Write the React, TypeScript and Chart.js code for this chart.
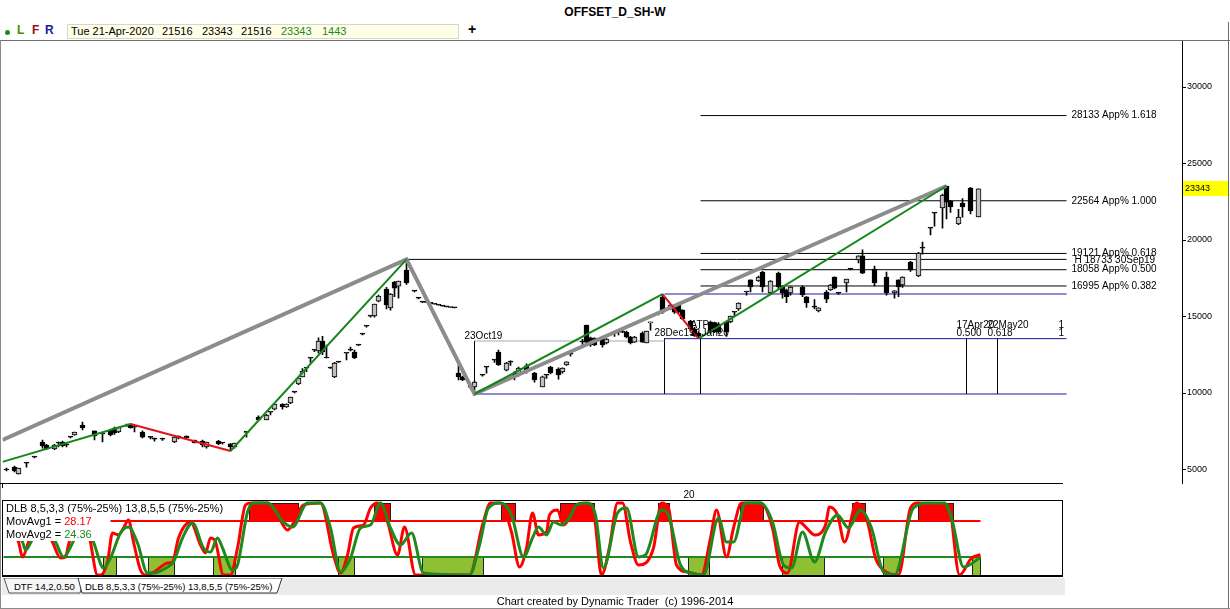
import React, { useEffect, useRef } from 'react';
import { Chart, registerables } from 'chart.js';

Chart.register(...registerables);

const FONT = "'Liberation Sans', Arial, sans-serif";

// ---- daily price bars (x = trading-day index from the left edge) ----
const barIdx = [
  1, 3, 4, 6, 8, 10, 11, 13, 14, 15,
  16, 17, 18, 20, 23, 25, 27, 28, 29, 31,
  32, 33, 35, 37, 38, 40, 43, 44, 46, 48,
  50, 51, 54, 55, 57, 58, 61, 64, 66, 67,
  68, 70, 71, 72, 73, 74, 75, 76, 77, 78,
  79, 80, 81, 82, 83, 84, 86, 87, 88, 89,
  90, 91, 92, 93, 94, 96, 97, 98, 99, 101,
  103, 104, 105, 106, 107, 108, 109, 110, 111, 112,
  113, 114, 115, 117, 118, 120, 121, 123, 124, 126,
  127, 128, 129, 131, 133, 135, 136, 137, 139, 140,
  141, 142, 145, 146, 147, 148, 150, 151, 153, 154,
  155, 156, 157, 158, 160, 161, 162, 164, 165, 167,
  168, 169, 170, 172, 173, 174, 177, 178, 179, 181,
  182, 183, 184, 186, 187, 189, 190, 192, 194, 195,
  196, 197, 200, 201, 203, 204, 206, 207, 208, 209,
  211, 212, 214, 215, 218, 221, 223, 224, 225, 227,
  229, 230, 232, 233, 235, 236, 237, 239, 240, 242,
  244,
];
const barOpen = [
  4970, 5160, 4710, 5430, 5820, 6800, 6600, 6340, 6730, 6800,
  6600, 7120, 7260, 7910, 7520, 7320, 7580, 7710, 7450, 7840,
  7970, 7780, 7450, 7120, 7000, 6990, 6800, 7190, 7190, 6930,
  6860, 6470, 6860, 6730, 6670, 6470, 7450, 8430, 8240, 8760,
  8950, 9280, 9090, 9350, 10070, 10590, 11050, 11630, 12290, 12810,
  12750, 13400, 12290, 11630, 11050, 12030, 12610, 12810, 12680, 13140,
  13860, 14380, 15030, 15030, 16010, 16800, 15560, 17250, 16990, 18040,
  16670, 16210, 15950, 15920, 15860, 15800, 15740, 15680, 15630, 15590,
  15560, 11310, 11050, 10390, 10390, 11180, 11700, 12160, 12680, 11500,
  12030, 11310, 11180, 11770, 11310, 10390, 11180, 11700, 11570, 11370,
  11830, 12550, 13330, 14440, 13600, 13590, 13530, 13270, 13920, 13990,
  13990, 13990, 13660, 13330, 13920, 13270, 14580, 15230, 16270, 15560,
  15750, 15880, 15420, 14700, 14200, 13900, 14640, 14600, 14500, 14640,
  14640, 15290, 15490, 16600, 17390, 17320, 17910, 16540, 17840, 16930,
  16730, 16540, 16930, 16280, 15620, 15360, 16600, 16730, 17580, 16540,
  17190, 18100, 18700, 18960, 18100, 17580, 16540, 17390, 17060, 18560,
  17650, 19480, 20780, 21770, 22090, 23530, 22550, 21050, 22420, 23400,
  21516,
];
const barHigh = [
  5100, 5230, 5100, 5430, 5820, 6930, 6650, 6650, 6800, 6860,
  6730, 7120, 7450, 8100, 7520, 7320, 7650, 7780, 7780, 7970,
  7990, 7780, 7520, 7150, 7050, 7060, 7120, 7200, 7200, 6930,
  6930, 6800, 6900, 6770, 6700, 6730, 7450, 8500, 8600, 8760,
  9280, 9300, 9300, 9740, 10070, 10980, 11600, 11630, 12290, 12810,
  13600, 13700, 13140, 11700, 12000, 12050, 12610, 13000, 12800, 13140,
  13860, 14380, 15030, 15820, 16400, 16900, 16500, 17300, 17320, 18733,
  16700, 16250, 15950, 15920, 15860, 15800, 15740, 15680, 15630, 15590,
  15560, 11830, 11100, 10400, 10800, 11200, 11700, 12160, 12800, 12000,
  12100, 11400, 11700, 11900, 11350, 11100, 11180, 11750, 11650, 11650,
  12030, 12550, 13500, 14440, 13650, 13600, 13550, 13550, 13920, 14050,
  14100, 14050, 13700, 13700, 14000, 14050, 14640, 15230, 16470, 15800,
  15800, 15900, 15450, 14750, 14300, 14000, 14700, 14640, 14600, 14700,
  15030, 15290, 15900, 16620, 17400, 17650, 17950, 17350, 17900, 17000,
  16800, 16950, 17000, 16300, 16100, 15560, 16700, 17100, 17600, 16550,
  17450, 18150, 18960, 19350, 18300, 17900, 16700, 17400, 17600, 18600,
  19200, 19870, 20800, 21770, 23000, 23530, 22600, 22000, 22700, 23450,
  23343,
];
const barLow = [
  4900, 4840, 4700, 5160, 5750, 6400, 6300, 6300, 6470, 6470,
  6470, 7060, 7250, 7580, 6930, 6800, 7200, 7300, 7400, 7840,
  7700, 7450, 7060, 7000, 6860, 6900, 6750, 7000, 7050, 6730,
  6470, 6400, 6600, 6650, 6210, 6400, 7120, 8200, 8240, 8560,
  8900, 8950, 9050, 9300, 10000, 10550, 11050, 11400, 12000, 12700,
  12600, 12500, 12290, 11600, 11000, 12000, 12160, 12750, 12250, 13100,
  13800, 14300, 14950, 14950, 15950, 15500, 15420, 16300, 16200, 17100,
  16600, 16150, 15900, 15920, 15860, 15800, 15740, 15680, 15630, 15590,
  15560, 10850, 10800, 10300, 9935, 11100, 11300, 12000, 11800, 11450,
  11800, 10850, 11100, 11300, 10700, 10390, 10950, 11250, 10900, 11300,
  11800, 12400, 13100, 13200, 13050, 13100, 13000, 13200, 13700, 13800,
  13950, 13600, 13200, 13300, 13300, 13270, 14100, 15100, 15200, 15450,
  15200, 15250, 14800, 14100, 13700, 13553, 13900, 13950, 13900, 13700,
  14600, 15000, 15400, 16400, 16600, 17300, 16600, 16500, 16800, 16200,
  15900, 16400, 16300, 15600, 15500, 15300, 15900, 16700, 16800, 16450,
  16600, 18050, 18500, 17800, 17000, 16400, 16200, 16300, 16900, 17950,
  17600, 19080, 20330, 20900, 20780, 21370, 21800, 21000, 21500, 21700,
  21516,
];
const barClose = [
  4970, 4900, 5100, 5420, 5810, 6540, 6340, 6600, 6730, 6540,
  6600, 7120, 7450, 7710, 7190, 7320, 7260, 7390, 7780, 7910,
  7710, 7760, 7120, 7100, 6990, 6980, 7120, 7060, 7060, 6730,
  6600, 6800, 6670, 6730, 6470, 6730, 7430, 8240, 8560, 8740,
  9280, 9090, 9280, 9740, 10060, 10980, 11440, 11620, 12280, 12800,
  13400, 12680, 12290, 11630, 11960, 12020, 12600, 12800, 12290, 13130,
  13850, 14370, 15020, 15820, 16340, 15750, 16470, 16860, 17320, 17190,
  16660, 16200, 15940, 15920, 15860, 15800, 15740, 15680, 15630, 15590,
  15560, 11050, 10850, 10380, 10720, 11170, 11690, 12150, 11830, 11960,
  12020, 11050, 11630, 11370, 10850, 11050, 11170, 11310, 11180, 11630,
  12030, 12540, 13320, 13330, 13140, 13140, 13140, 13530, 13910, 13980,
  13980, 13660, 13270, 13660, 13330, 14050, 14640, 15220, 15290, 15750,
  15290, 15290, 14840, 14200, 13800, 13700, 13990, 14000, 14000, 13990,
  15030, 15280, 15880, 16600, 16930, 17580, 16930, 17320, 16930, 16540,
  16280, 16930, 16410, 15880, 15610, 15560, 16140, 17060, 16860, 16530,
  17450, 18100, 18960, 17840, 17190, 16540, 16670, 16930, 17580, 18040,
  19150, 19470, 20780, 21760, 22940, 22480, 22160, 21500, 22160, 21900,
  23343,
];
// bar flagged by the pivot finder
const markedBars = [48];

// readout of the last bar
const lastDate = 'Tue 21-Apr-2020';
const lastOpen = 21516;
const lastHigh = 23343;
const lastLow = 21516;
const lastClose = 23343;
const lastChange = 1443;

// right price axis
const yTicks = [5000, 10000, 15000, 20000, 25000, 30000];
const yMin = 4118;
const yMax = 33072;

// bottom time axis
const yearTickIdx = [170.25];
const yearTickLabels = ['20'];

// major swing path (thick grey)
const majorIdx = [0, 101, 118, 236];
const majorPrice = [6930, 18733, 9935, 23530];

// minor swing pivots (green up legs, red down legs)
const pivotIdx = [0, 32, 57, 101, 118, 165, 174, 236];
const pivotPrice = [5500, 7970, 6210, 18733, 9935, 16470, 13553, 23530];
const pivotBreak = 3; // no minor leg between pivot 3 and 4

// alternate price projection levels
const fibLevels = [28133, 22564, 19121, 18058, 16995];
const fibRatios = ['1.618', '1.000', '0.618', '0.500', '0.382'];
const fibFromIdx = 174.5;
const levelToIdx = 266;
const fibBase = 13553;

// swing high reference
const highLevel = 18733;
const highDate = '30Sep19';
const highIdx = 101;

// blue range lines
const blueLevels = [16470, 13553, 9935];
const blueFromIdx = [165.5, 165.5, 118];
const greyLevel = 13400;

// time projections
const markerIdx = [118, 165.5, 174.5, 241, 248.75];
const markerTop = [13400, 13553, 13553, 13553, 13553];
const markerBase = 9935;
const markerDates = ['23Oct19', '28Dec19', '31Jan20', '17Apr20', '22May20'];
const markerRatios = ['', '', '', '0.500', '0.618'];
const atpIdx = 174;

// ---- DLB oscillator ----
const fastIdx = [
  0.25, 4, 5, 6.25, 8.25, 10.75, 12.5, 14.5, 15.75, 16.5,
  19, 21.5, 22, 23.75, 24.5, 26.25, 27.5, 29, 30.25, 31.5,
  32.75, 34.5, 35.75, 37.5, 40.25, 41.25, 42.5, 44, 47, 49.5,
  50.75, 52, 53.25, 55.25, 57, 58.75, 60.75, 62, 66.25, 68.75,
  71.25, 72.75, 75.25, 79.5, 82.75, 84.5, 86.25, 87.75, 90.25, 92,
  93.75, 96.25, 98.75, 100.5, 103.25, 116.75, 120, 122, 124.5, 127.25,
  129.25, 131, 132.5, 134, 136, 136.75, 138.75, 140.25, 141.75, 143.5,
  145.5, 148, 149.75, 151.75, 153.75, 155, 157, 159, 162.75, 164.75,
  166.5, 168.5, 171.25, 174.75, 177, 178.5, 181, 182.75, 184.75, 189.5,
  192.5, 194.25, 196.25, 199.25, 201, 203, 205.75, 206.75, 208.75, 210.5,
  213.5, 216.25, 218.25, 220.25, 224, 227, 228.75, 236.5, 239.25, 242.25,
  244.5,
];
const fastVal = [
  70, 45.8, 25, 41.7, 75, 65, 45.8, 23.6, 25, 41.7,
  83, 62, 45.8, 0, 0, 18.1, 58.3, 55.6, 65.3, 76.4,
  45.8, 6.9, 0, 2.8, 13.9, 16.7, 18.1, 51.4, 73.6, 41.7,
  30.6, 51.4, 45.8, 0, 0, 37.5, 97.2, 100, 100, 83.3,
  62.5, 72.2, 97.2, 100, 27.8, 2.8, 27.8, 65.3, 69.4, 93.1,
  100, 73.6, 27.8, 66.7, 0, 0, 69.4, 100, 100, 59.7,
  11.1, 37.5, 86.1, 55.6, 59.7, 83.3, 90.3, 69.4, 79.2, 97.2,
  100, 79.2, 0, 38.9, 100, 100, 45.8, 13.9, 37.5, 100,
  93.1, 13.9, 4.2, 0, 51.4, 90.3, 25, 65.3, 100, 100,
  65.3, 13.9, 2.8, 73.6, 65.3, 55.6, 69.4, 94.4, 83.3, 45.8,
  100, 73.6, 23.6, 6.9, 0, 93.1, 100, 97.2, 0, 23.6,
  28.17,
];
const slowIdx = [
  0.25, 5, 5.75, 7, 9.5, 13.25, 15.25, 17.5, 20, 22.75,
  25.25, 27, 29.5, 31.5, 33.75, 36.25, 37.75, 41.25, 42.75, 45,
  47.5, 50.25, 52, 53.75, 55, 57.5, 58.75, 61.25, 62.75, 66.25,
  70.25, 72.5, 76.25, 79.5, 82, 84.5, 87, 89.5, 92, 94.5,
  97, 99.5, 102.25, 105.25, 116.75, 119.25, 121.5, 124.5, 127.25, 130.25,
  132.5, 134, 136, 137.75, 139.75, 141.75, 143.5, 146.5, 148.25, 150.25,
  153.75, 156, 159, 160.75, 164.75, 166.5, 169.5, 172.25, 175.25, 179,
  181, 182.75, 185.75, 189.5, 192.5, 195.25, 197.25, 200, 203, 205.75,
  208.75, 211.5, 214.5, 217.25, 220.25, 223, 227.75, 231.75, 235.5, 237.5,
  240.25, 244.5,
];
const slowVal = [
  60, 45.8, 34.7, 44.4, 70, 45.8, 25, 44.4, 75, 45.8,
  9.7, 23.6, 58.3, 66.7, 44.4, 2.8, 2.8, 11.1, 18.1, 51.4,
  72.2, 37.5, 31.9, 51.4, 37.5, 6.9, 13.9, 87.5, 100, 100,
  73.6, 66.7, 100, 100, 65.3, 4.2, 23.6, 65.3, 69.4, 100,
  65.3, 41.7, 58.3, 2.8, 0, 41.7, 93.1, 100, 83.3, 25,
  51.4, 66.7, 55.6, 73.6, 69.4, 79.2, 97.2, 100, 83.3, 9.7,
  86.1, 93.1, 25, 27.8, 90.3, 83.3, 13.9, 2.8, 0, 79.2,
  45.8, 45.8, 100, 100, 73.6, 13.9, 9.7, 59.7, 18.1, 59.7,
  83.3, 65.3, 90.3, 65.3, 4.2, 0, 93.1, 100, 100, 73.6,
  11.1, 24.36,
];
const upperBand = 75;
const lowerBand = 25;
const upperBandFrom = 27;
const bandTo = 244.5;
const redZoneStart = [61.5, 92.75, 124.5, 139.25, 163.75, 184.25, 212.25, 229];
const redZoneEnd = [73.75, 96.75, 128, 147.75, 166.5, 190, 215.5, 237.5];
const greenZoneStart = [25, 36.25, 52.75, 83.75, 104.75, 171.25, 194.75, 220, 242.25];
const greenZoneEnd = [28.25, 42.75, 58, 87.75, 120, 176.5, 205.25, 224, 244.25];

const X_MAX = 294.875;
const UP_GREEN = '#16861a';
const DOWN_RED = '#e3121b';
const OSC_RED = '#ff0000';
const OSC_GREEN = '#1e8a1e';
const ZONE_GREEN = '#8fbf32';

const line = (pts: any[], color: string, width: number, order: number) => ({
  type: 'line',
  data: pts,
  borderColor: color,
  borderWidth: width,
  pointRadius: 0,
  fill: false,
  tension: 0,
  order,
});

function priceDatasets() {
  const sets: any[] = [];
  fibLevels.forEach((lv) => sets.push(line([{ x: fibFromIdx, y: lv }, { x: levelToIdx, y: lv }], '#000', 1, 30)));
  sets.push(line([{ x: highIdx, y: highLevel }, { x: levelToIdx, y: highLevel }], '#000', 1, 30));
  blueLevels.forEach((lv, i) => sets.push(line([{ x: blueFromIdx[i], y: lv }, { x: levelToIdx, y: lv }], '#1818a0', 1, 30)));
  sets.push(line([{ x: markerIdx[0], y: greyLevel }, { x: markerIdx[1], y: greyLevel }], '#a8a8a8', 1, 30));
  markerIdx.forEach((m, i) => sets.push(line([{ x: m, y: markerTop[i] }, { x: m, y: markerBase }], '#000', 1, 30)));

  sets.push({
    type: 'bar',
    data: barIdx.map((x, i) => ({ x, y: [barLow[i], barHigh[i]] })),
    backgroundColor: '#000',
    barThickness: 1,
    grouped: false,
    order: 20,
  });
  sets.push({
    type: 'bar',
    data: barIdx.map((x, i) => ({ x, y: [barOpen[i], barClose[i]] })),
    backgroundColor: barIdx.map((x, i) =>
      markedBars.includes(x) ? '#d21cd2' : barClose[i] > barOpen[i] ? '#c0c0c0' : '#000000'
    ),
    borderColor: '#000',
    borderWidth: 1,
    borderSkipped: false,
    barThickness: 5,
    minBarLength: 1,
    grouped: false,
    order: 19,
  });

  sets.push(line(majorIdx.map((x, i) => ({ x, y: majorPrice[i] })), '#8c8c8c', 4, 3));
  for (let i = 0; i < pivotIdx.length - 1; i++) {
    if (i === pivotBreak) continue;
    const up = pivotPrice[i + 1] > pivotPrice[i];
    sets.push(
      line(
        [{ x: pivotIdx[i], y: pivotPrice[i] }, { x: pivotIdx[i + 1], y: pivotPrice[i + 1] }],
        up ? UP_GREEN : DOWN_RED,
        2,
        1
      )
    );
  }
  return sets;
}

const annotationPlugin = {
  id: 'priceAnnotations',
  afterDatasetsDraw(chart: any) {
    const { ctx, scales } = chart;
    const x = scales.x;
    const y = scales.y;
    ctx.save();
    ctx.fillStyle = '#000';
    ctx.font = `10px ${FONT}`;
    ctx.textAlign = 'left';
    ctx.textBaseline = 'middle';
    const endX = x.getPixelForValue(levelToIdx);
    fibLevels.forEach((lv, i) => ctx.fillText(`${lv} App% ${fibRatios[i]}`, endX + 5, y.getPixelForValue(lv)));
    ctx.fillText(`H ${highLevel} ${highDate}`, endX + 8, y.getPixelForValue(highLevel) + 1);

    markerIdx.forEach((m, i) => {
      const mx = x.getPixelForValue(m) - 10;
      const my = y.getPixelForValue(markerTop[i]);
      if (markerRatios[i]) {
        ctx.fillText(markerDates[i], mx, my - 13);
        ctx.fillText(markerRatios[i], mx, my - 5);
      } else {
        ctx.fillText(markerDates[i], mx, my - 5);
      }
    });
    const baseY = y.getPixelForValue(fibBase);
    ctx.fillText('1', endX - 8, baseY - 13);
    ctx.fillText('1', endX - 8, baseY - 5);
    ctx.fillText('ATP', x.getPixelForValue(atpIdx) - 8, baseY - 13);

    // last close tag on the price axis
    const ty = Math.round(y.getPixelForValue(lastClose));
    ctx.fillStyle = '#ffff00';
    ctx.fillRect(x.right + 1, ty - 8, 46, 15);
    ctx.fillStyle = '#000';
    ctx.font = `9px ${FONT}`;
    ctx.fillText(String(lastClose), x.right + 3, ty);
    ctx.restore();
  },
};

const zonePlugin = {
  id: 'oscZones',
  beforeDatasetsDraw(chart: any) {
    const { ctx, scales } = chart;
    const x = scales.x;
    const y = scales.y;
    const box = (a: number, b: number, lo: number, hi: number, fill: string) => {
      const x0 = Math.round(x.getPixelForValue(a)) + 0.5;
      const x1 = Math.round(x.getPixelForValue(b)) + 0.5;
      const y0 = Math.round(y.getPixelForValue(hi)) + 0.5;
      const y1 = Math.round(y.getPixelForValue(lo)) + 0.5;
      ctx.fillStyle = fill;
      ctx.fillRect(x0, y0, x1 - x0, y1 - y0);
      ctx.strokeStyle = '#202020';
      ctx.lineWidth = 1;
      ctx.strokeRect(x0, y0, x1 - x0, y1 - y0);
    };
    ctx.save();
    redZoneStart.forEach((s, i) => box(s, redZoneEnd[i], upperBand, 100, OSC_RED));
    greenZoneStart.forEach((s, i) => box(s, greenZoneEnd[i], 0, lowerBand, ZONE_GREEN));
    ctx.restore();
  },
};

export default function App() {
  const priceRef = useRef<HTMLCanvasElement>(null);
  const oscRef = useRef<HTMLCanvasElement>(null);

  useEffect(() => {
    const price = new Chart(priceRef.current as HTMLCanvasElement, {
      type: 'line',
      data: { datasets: priceDatasets() },
      options: {
        responsive: false,
        animation: false,
        events: [],
        layout: { padding: { left: 2.5, right: 0, top: 0, bottom: 0 } },
        plugins: { legend: { display: false }, tooltip: { enabled: false } },
        scales: {
          x: {
            type: 'linear',
            min: 0,
            max: X_MAX,
            offset: false,
            border: { display: false },
            grid: { display: true, drawOnChartArea: false, drawTicks: true, tickLength: 5, color: '#000' },
            ticks: {
              align: 'start',
              padding: 1,
              maxRotation: 0,
              autoSkip: false,
              color: '#000',
              font: { family: FONT, size: 10 },
              callback: (_v: any, i: number) => yearTickLabels[i],
            },
            afterBuildTicks: (s: any) => {
              s.ticks = yearTickIdx.map((v) => ({ value: v }));
            },
            afterFit: (s: any) => {
              s.height = 17;
              s.paddingLeft = 0;
              s.paddingRight = 0;
            },
          },
          y: {
            type: 'linear',
            position: 'right',
            min: yMin,
            max: yMax,
            border: { display: true, color: '#000', width: 1 },
            grid: { display: true, drawOnChartArea: false, drawTicks: true, tickLength: 4, color: '#000' },
            ticks: {
              padding: 1,
              color: '#000',
              font: { family: FONT, size: 9 },
              callback: (v: any) => String(v),
            },
            afterBuildTicks: (s: any) => {
              s.ticks = yTicks.map((v) => ({ value: v }));
            },
            afterFit: (s: any) => {
              s.width = 48;
              s.paddingTop = 0;
              s.paddingBottom = 0;
            },
          },
        },
      } as any,
      plugins: [annotationPlugin],
    } as any);

    const osc = new Chart(oscRef.current as HTMLCanvasElement, {
      type: 'line',
      data: {
        datasets: [
          {
            data: slowIdx.map((x, i) => ({ x, y: slowVal[i] })),
            borderColor: OSC_GREEN,
            borderWidth: 3,
            pointRadius: 0,
            cubicInterpolationMode: 'monotone',
            clip: false,
            order: 0,
          },
          {
            data: fastIdx.map((x, i) => ({ x, y: fastVal[i] })),
            borderColor: OSC_RED,
            borderWidth: 3,
            pointRadius: 0,
            cubicInterpolationMode: 'monotone',
            clip: false,
            order: 1,
          },
          line([{ x: upperBandFrom, y: upperBand }, { x: bandTo, y: upperBand }], OSC_RED, 2, 2),
          line([{ x: 0.25, y: lowerBand }, { x: bandTo, y: lowerBand }], OSC_GREEN, 2, 2),
        ],
      },
      options: {
        responsive: false,
        animation: false,
        events: [],
        layout: { padding: { left: 2.5, right: 48, top: 3, bottom: 3 } },
        plugins: { legend: { display: false }, tooltip: { enabled: false } },
        scales: {
          x: { type: 'linear', min: 0, max: X_MAX, display: false },
          y: { type: 'linear', min: 0, max: 100, display: false },
        },
      } as any,
      plugins: [zonePlugin],
    } as any);

    return () => {
      price.destroy();
      osc.destroy();
    };
  }, []);

  const txt = (left: number, top: number, text: string, extra: any = {}) => (
    <span style={{ position: 'absolute', left, top, fontSize: 11, lineHeight: '13px', whiteSpace: 'pre', ...extra }}>
      {text}
    </span>
  );

  return (
    <div
      style={{
        position: 'fixed',
        left: 0,
        top: 0,
        width: 1230,
        height: 609,
        background: '#fff',
        fontFamily: FONT,
        color: '#000',
        overflow: 'hidden',
      }}
    >
      {/* title */}
      <div style={{ position: 'absolute', left: 0, top: 4, width: 1230, textAlign: 'center', fontWeight: 'bold', fontSize: 12, lineHeight: '16px' }}>
        OFFSET_D_SH-W
      </div>

      {/* toolbar */}
      <div style={{ position: 'absolute', left: 5, top: 30, width: 5, height: 5, borderRadius: 3, background: '#1c8c1c' }} />
      {txt(17, 24, 'L', { fontWeight: 'bold', fontSize: 12, color: '#4a8a00' })}
      {txt(32, 24, 'F', { fontWeight: 'bold', fontSize: 12, color: '#9b1010' })}
      {txt(45, 24, 'R', { fontWeight: 'bold', fontSize: 12, color: '#1a1a9c' })}
      <div style={{ position: 'absolute', left: 67, top: 24, width: 390, height: 13, background: '#fffee6', border: '1px solid #d6d6c8' }} />
      {txt(71, 25, lastDate)}
      {txt(162, 25, String(lastOpen))}
      {txt(202, 25, String(lastHigh))}
      {txt(241, 25, String(lastLow))}
      {txt(281, 25, String(lastClose), { color: '#1e8a1e' })}
      {txt(322, 25, String(lastChange), { color: '#1e8a1e' })}
      {txt(468, 23, '+', { fontWeight: 'bold', fontSize: 14 })}

      {/* price chart */}
      <canvas ref={priceRef} width={1230} height={460} style={{ position: 'absolute', left: 0, top: 40 }} />

      {/* oscillator */}
      <canvas ref={oscRef} width={1230} height={78} style={{ position: 'absolute', left: 0, top: 500 }} />
      <div style={{ position: 'absolute', left: 3, top: 502, fontSize: 11, lineHeight: '13px' }}>
        <div style={{ background: '#fff', display: 'inline-block', padding: '0 2px 0 3px' }}>DLB 8,5,3,3 (75%-25%) 13,8,5,5 (75%-25%)</div>
        <br />
        <div style={{ background: '#fff', display: 'inline-block', padding: '0 3px' }}>
          MovAvg1 = <span style={{ color: OSC_RED }}>{fastVal[fastVal.length - 1].toFixed(2)}</span>
        </div>
        <br />
        <div style={{ background: '#fff', display: 'inline-block', padding: '0 3px' }}>
          MovAvg2 = <span style={{ color: OSC_GREEN }}>{slowVal[slowVal.length - 1].toFixed(2)}</span>
        </div>
      </div>

      {/* frames */}
      <div style={{ position: 'absolute', left: 0, top: 40, width: 1230, height: 1, background: '#6e6e6e' }} />
      <div style={{ position: 'absolute', left: 0, top: 40, width: 1, height: 569, background: '#8a8a8a' }} />
      <div style={{ position: 'absolute', left: 1228, top: 22, width: 1, height: 587, background: '#6e6e6e' }} />
      <div style={{ position: 'absolute', left: 0, top: 608, width: 1230, height: 1, background: '#8a8a8a' }} />
      <div style={{ position: 'absolute', left: 0, top: 483, width: 1063, height: 1, background: '#000' }} />
      <div style={{ position: 'absolute', left: 2, top: 500, width: 1061, height: 77, borderLeft: '1px solid #000', borderRight: '1px solid #000', borderTop: '1px solid #000', borderBottom: '2px solid #000', boxSizing: 'border-box' }} />

      {/* indicator tabs */}
      <svg width={1063} height={17} style={{ position: 'absolute', left: 2, top: 578 }}>
        <rect x={0} y={0} width={1063} height={17} fill="#ebebeb" />
        <polygon points="2,0 7,15 78,15 82,0" fill="#f6f6f6" stroke="#555" strokeWidth={1} />
        <polygon points="76,0 80,15 275,15 280,0" fill="#ffffff" stroke="#333" strokeWidth={1} />
        <text x={12} y={12} fontSize={9.5} fontFamily={FONT} fill="#000">DTF 14,2,0.50</text>
        <text x={83} y={12} fontSize={9.5} fontFamily={FONT} fill="#000">DLB 8,5,3,3 (75%-25%) 13,8,5,5 (75%-25%)</text>
      </svg>

      {/* footer */}
      <div style={{ position: 'absolute', left: 0, top: 595, width: 1230, textAlign: 'center', fontSize: 11, lineHeight: '13px', whiteSpace: 'pre' }}>
        Chart created by Dynamic Trader  (c) 1996-2014
      </div>
    </div>
  );
}
